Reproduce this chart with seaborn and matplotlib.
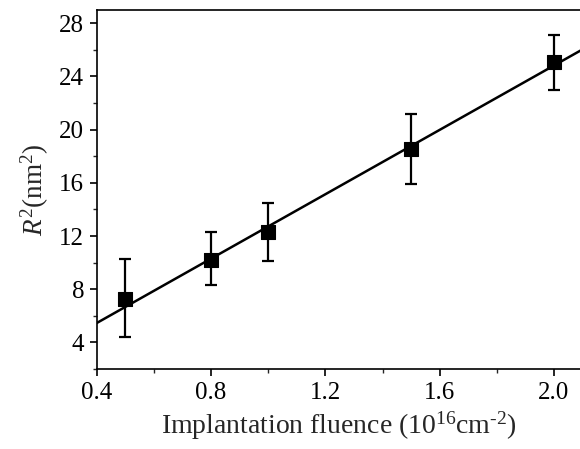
import matplotlib
matplotlib.use("Agg")
import matplotlib.pyplot as plt
import seaborn as sns
import numpy as np
import pandas as pd
from matplotlib.ticker import MultipleLocator, FormatStrFormatter

# Data
fluence = [0.5, 0.8, 1.0, 1.5, 2.0]
r2 = [7.3, 10.2, 12.3, 18.55, 25.05]
err_low = [4.4, 8.3, 10.1, 15.9, 23.0]
err_high = [10.3, 12.3, 14.45, 21.2, 27.1]
fit_x = [0.4, 2.1]
fit_slope = 12.1
fit_intercept = 0.62

sns.set_theme(style="ticks")
plt.rcParams['font.family'] = ['Liberation Serif', 'DejaVu Serif']
plt.rcParams['mathtext.fontset'] = 'custom'
plt.rcParams['mathtext.rm'] = 'Liberation Serif'
plt.rcParams['mathtext.it'] = 'Liberation Serif:italic'

df = pd.DataFrame({"x": fluence, "y": r2})
fit_df = pd.DataFrame({"x": fit_x, "y": [fit_slope * v + fit_intercept for v in fit_x]})

fig = plt.figure(figsize=(5.8, 4.49), dpi=100)
ax = fig.add_axes([0.1667, 0.178, 0.8333, 0.8])

sns.lineplot(data=fit_df, x="x", y="y", ax=ax, color="black", lw=1.8)
yerr = np.array([np.array(r2) - np.array(err_low), np.array(err_high) - np.array(r2)])
ax.errorbar(fluence, r2, yerr=yerr, fmt="none", ecolor="black", elinewidth=1.6,
            capsize=4, capthick=1.6, zorder=3)
sns.scatterplot(data=df, x="x", y="y", ax=ax, marker="s", s=95, color="black",
                edgecolor="black", zorder=4)

ax.set_xlim(0.4, 2.091)
ax.set_ylim(2, 29)
ax.xaxis.set_major_locator(MultipleLocator(0.4))
ax.xaxis.set_minor_locator(MultipleLocator(0.2))
ax.xaxis.set_major_formatter(FormatStrFormatter("%.1f"))
ax.yaxis.set_major_locator(MultipleLocator(4))
ax.yaxis.set_minor_locator(MultipleLocator(2))
ax.tick_params(which="major", direction="out", length=5, width=1.2, labelsize=18,
               colors="black", top=False, right=False, pad=4)
ax.tick_params(which="minor", direction="out", length=3, width=1.0, top=False, right=False)
ax.spines["right"].set_visible(False)
for s in ["left", "bottom", "top"]:
    ax.spines[s].set_linewidth(1.2)
    ax.spines[s].set_color("black")

ax.set_xlabel(r"Implantation fluence (10$^{16}$cm$^{\text{-}2}$)", fontsize=20, labelpad=4)
ax.set_ylabel(r"$\it{R}^{2}$(nm$^{2}$)", fontsize=19.5, labelpad=6)

fig.savefig("out.png", dpi=100)
